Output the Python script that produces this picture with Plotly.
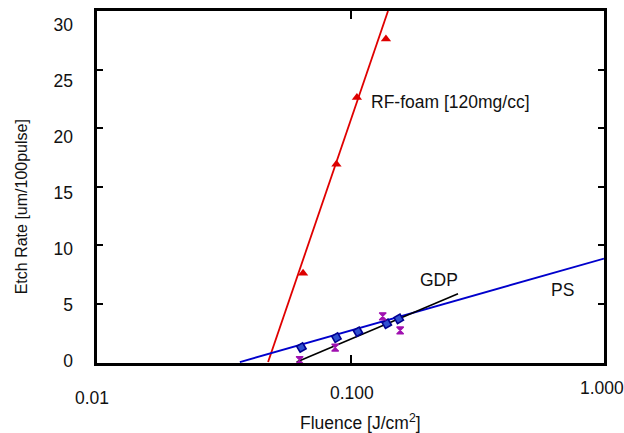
import math
import plotly.graph_objects as go

# ---- data ----
fluence_rf = [0.065, 0.088, 0.106, 0.138]
rate_rf = [7.6, 16.9, 22.6, 27.6]
fit_rf_x = [0.0473, 0.1406]
fit_rf_y = [0.0, 30.0]

fluence_ps = [0.064, 0.088, 0.107, 0.139, 0.155]
rate_ps = [1.24, 2.09, 2.59, 3.27, 3.69]
fit_ps_x = [0.0366, 1.0]
fit_ps_y = [0.0, 8.85]

fluence_gdp = [0.063, 0.087, 0.134, 0.157]
rate_gdp = [0.17, 1.24, 3.91, 2.70]
fit_gdp_x = [0.0613, 0.2655]
fit_gdp_y = [0.0, 5.83]

x_tick_vals = [0.01, 0.1, 1.0]
x_tick_text = ["0.01", "0.100", "1.000"]
y_tick_vals = [0, 5, 10, 15, 20, 25, 30]

FONT = "Liberation Sans, Arial, sans-serif"
FS = 17.5
fig = go.Figure()

fig.add_trace(go.Scatter(x=fit_rf_x, y=fit_rf_y, mode="lines",
                         line=dict(color="#e00000", width=1.8), showlegend=False))
fig.add_trace(go.Scatter(x=fit_ps_x, y=fit_ps_y, mode="lines",
                         line=dict(color="#0000cc", width=1.8), showlegend=False))
fig.add_trace(go.Scatter(x=fit_gdp_x, y=fit_gdp_y, mode="lines",
                         line=dict(color="#000000", width=1.6), showlegend=False))

fig.add_trace(go.Scatter(x=fluence_rf, y=rate_rf, mode="markers",
                         marker=dict(symbol="triangle-up", size=9, color="#dd0000"),
                         showlegend=False))
fig.add_trace(go.Scatter(x=fluence_ps, y=rate_ps, mode="markers",
                         marker=dict(symbol="diamond", size=7.5, angle=15, color="#3050d0",
                                     line=dict(color="#000090", width=1.6)),
                         showlegend=False))
fig.add_trace(go.Scatter(x=fluence_gdp, y=rate_gdp, mode="markers",
                         marker=dict(symbol="hourglass", size=7, color="#a010b0",
                                     line=dict(color="#a010b0", width=1.2)),
                         showlegend=False))
# hidden trace for label axis
fig.add_trace(go.Scatter(x=[None], y=[None], yaxis="y2", showlegend=False))

annotations = []
label_y = [398, 393, 388]
label_dx = [-5, 1, -2]
for v, t, py, dx in zip(x_tick_vals, x_tick_text, label_y, label_dx):
    annotations.append(dict(x=math.log10(v), xref="x", y=(363 - py) / 355, yref="paper",
                            text=t, showarrow=False, xanchor="center", yanchor="middle",
                            xshift=dx, font=dict(size=FS, color="#111", family=FONT)))

annotations += [
    dict(x=(360 - 97) / 507, y=(363 - 422) / 355, xref="paper", yref="paper",
         text="Fluence [J/cm<sup>2</sup>]", showarrow=False, xanchor="center",
         yanchor="middle", font=dict(size=FS, color="#111", family=FONT)),
    dict(x=(21 - 97) / 507, y=(363 - 206) / 355, xref="paper", yref="paper",
         text="Etch Rate [um/100pulse]", textangle=-90, showarrow=False,
         xanchor="center", yanchor="middle", font=dict(size=16, color="#111", family=FONT)),
    dict(x=-0.927, y=22.2, xref="x", yref="y", text="RF-foam [120mg/cc]",
         showarrow=False, xanchor="left", yanchor="middle",
         font=dict(size=FS, color="#111", family=FONT)),
    dict(x=-0.7337, y=7.0, xref="x", yref="y", text="GDP",
         showarrow=False, xanchor="left", yanchor="middle",
         font=dict(size=FS, color="#111", family=FONT)),
    dict(x=-0.1657, y=6.17, xref="x", yref="y", text="PS",
         showarrow=False, xanchor="center", yanchor="middle",
         font=dict(size=FS, color="#111", family=FONT)),
]

fig.update_layout(
    width=624, height=433,
    margin=dict(l=97, r=20, t=8, b=70),
    paper_bgcolor="white", plot_bgcolor="white",
    font=dict(family=FONT, size=FS, color="#111"),
    annotations=annotations,
    xaxis=dict(type="log", range=[-2, 0], tickvals=x_tick_vals, showticklabels=False,
               ticks="inside", ticklen=8, tickwidth=1.5, tickcolor="black",
               showline=True, linewidth=3, linecolor="black", mirror="ticks",
               showgrid=False, zeroline=False),
    yaxis=dict(range=[-0.08, 30], tickvals=y_tick_vals, showticklabels=False,
               ticks="inside", ticklen=6, tickwidth=1.5, tickcolor="black",
               showline=True, linewidth=3, linecolor="black", mirror="ticks",
               showgrid=False, zeroline=True, zerolinecolor="#999999", zerolinewidth=2.5),
    yaxis2=dict(overlaying="y", side="left", range=[-0.177, 31.239],
                tickvals=y_tick_vals, ticks="", showline=False, showgrid=False,
                zeroline=False, ticklabelstandoff=23,
                tickfont=dict(size=FS, color="#111", family=FONT)),
)

fig.write_html("out.html", config={"displayModeBar": False},
               post_script="document.body.style.margin='0';")
